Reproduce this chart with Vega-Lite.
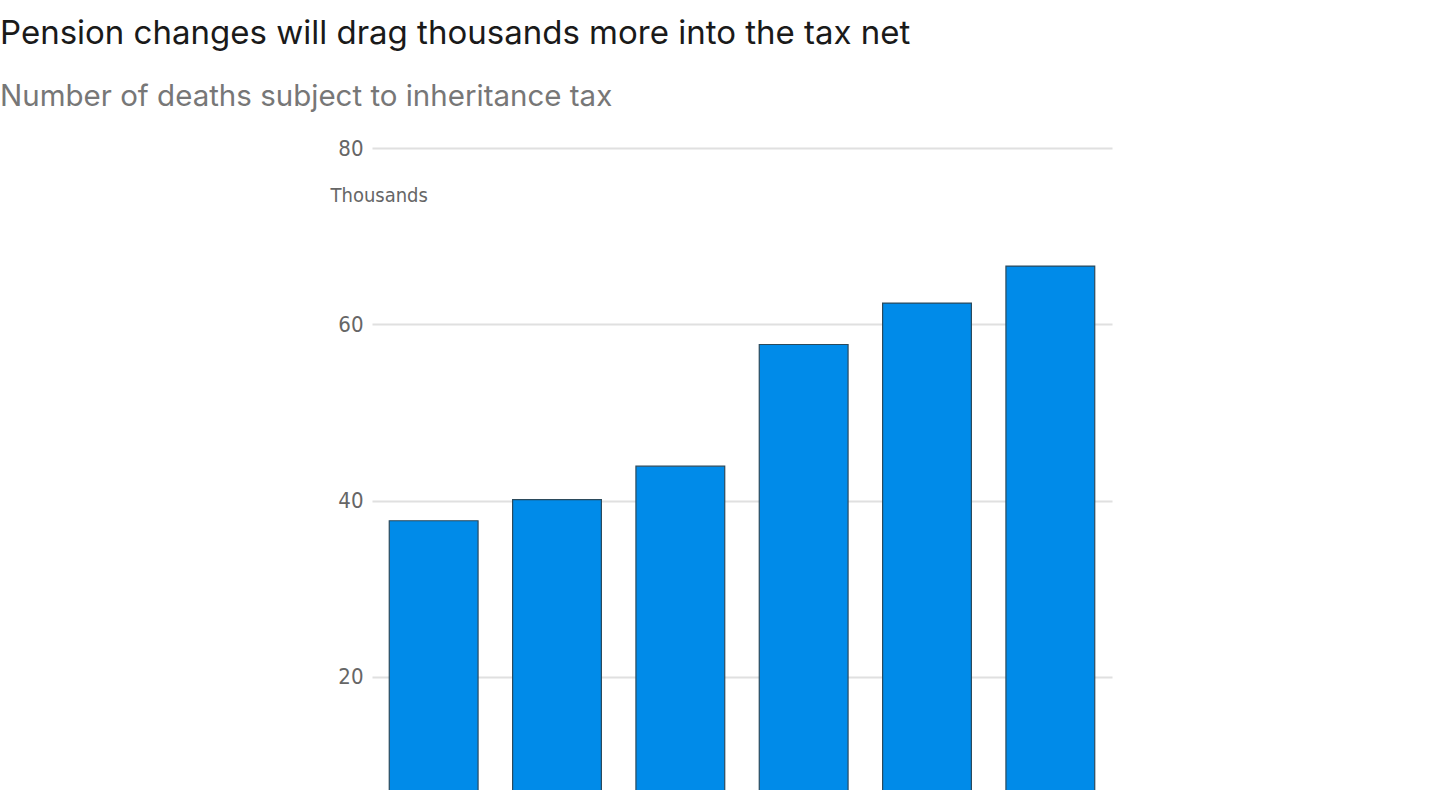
{
  "$schema": "https://vega.github.io/schema/vega-lite/v6.json",
  "autosize": {"type": "none"},
  "padding": {"left": 372, "top": 148, "right": 328, "bottom": 0},
  "width": 740,
  "height": 705,
  "background": "white",
  "title": {
    "text": "Pension changes will drag thousands more into the tax net",
    "subtitle": "Number of deaths subject to inheritance tax",
    "anchor": "start",
    "frame": "group",
    "dx": -372,
    "offset": 26,
    "font": "Inter",
    "fontSize": 33,
    "fontWeight": "normal",
    "color": "#1a1a1a",
    "subtitleFont": "Inter",
    "subtitleFontSize": 29.5,
    "subtitleColor": "#777777",
    "subtitlePadding": 32
  },
  "data": {
    "values": [
      {"year": "2022-23", "deaths": 37.7},
      {"year": "2023-24", "deaths": 40.1},
      {"year": "2024-25", "deaths": 43.9},
      {"year": "2025-26", "deaths": 57.7},
      {"year": "2026-27", "deaths": 62.4},
      {"year": "2027-28", "deaths": 66.6}
    ]
  },
  "mark": {
    "type": "bar",
    "color": "#008be9",
    "stroke": "#2b4a5c",
    "strokeWidth": 1.2
  },
  "encoding": {
    "x": {
      "field": "year",
      "type": "ordinal",
      "title": null,
      "scale": {"paddingInner": 0.28, "paddingOuter": 0.14},
      "axis": {"domain": false, "ticks": false, "labels": false}
    },
    "y": {
      "field": "deaths",
      "type": "quantitative",
      "title": "Thousands",
      "scale": {"domain": [0, 80], "nice": false},
      "axis": {
        "values": [20, 40, 60, 80],
        "domain": false,
        "ticks": false,
        "grid": true,
        "gridColor": "#e0e0e0",
        "gridWidth": 2,
        "labelFont": "DejaVu Sans Condensed, Roboto",
        "labelFontSize": 22,
        "labelColor": "#666666",
        "labelPadding": 9,
        "titleFont": "DejaVu Sans Condensed, Roboto",
        "titleFontSize": 20,
        "titleFontWeight": "normal",
        "titleColor": "#666666",
        "titleAngle": 0,
        "titleAlign": "left",
        "titleBaseline": "middle",
        "titleX": -42,
        "titleY": 47
      }
    }
  },
  "config": {"view": {"stroke": null}}
}
